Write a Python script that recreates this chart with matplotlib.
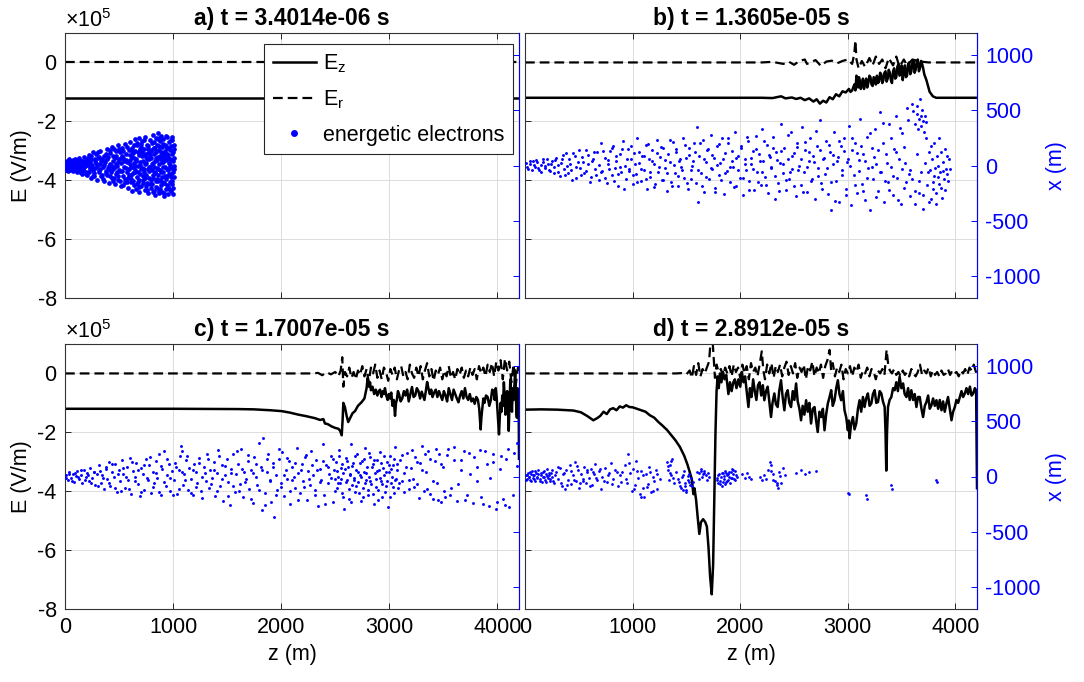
import numpy as np
import matplotlib
matplotlib.use("Agg")
import matplotlib.pyplot as plt

plt.rcParams["font.family"] = ["Liberation Sans", "DejaVu Sans"]
plt.rcParams["mathtext.fontset"] = "custom"
plt.rcParams["mathtext.rm"] = "Liberation Sans"
plt.rcParams["mathtext.it"] = "Liberation Sans:italic"
plt.rcParams["axes.unicode_minus"] = False
plt.rcParams["lines.scale_dashes"] = False

FS = 15.5

# ---------------- data (E in units of 1e5 V/m, z and x in m) ----------------
titles = ["a) t = 3.4014e-06 s", "b) t = 1.3605e-05 s",
          "c) t = 1.7007e-05 s", "d) t = 2.8912e-05 s"]

ez_a = [(0, -1.2), (4200, -1.2)]
er_a = [(0, 0.0), (4200, 0.0)]

ez_b = [(0, -1.2), (2200, -1.2), (2300, -1.21), (2380, -1.15), (2420, -1.22), (2480, -1.19),
        (2520, -1.24), (2560, -1.2), (2600, -1.28), (2640, -1.22), (2680, -1.33), (2710, -1.25),
        (2740, -1.4), (2770, -1.3), (2800, -1.36), (2830, -1.18), (2860, -1.25), (2890, -1.08),
        (2920, -1.15), (2950, -0.98), (2980, -1.02), (3010, -0.9), (3025, -1.0), (3040, -0.95),
        (3060, -0.75), (3070, -0.95), (3080, -0.45), (3088, -0.7), (3095, -0.85), (3103, -0.5),
        (3110, -0.6), (3120, -0.9), (3130, -0.75), (3140, -0.55), (3150, -0.9), (3160, -0.7),
        (3170, -0.55), (3180, -0.85), (3190, -0.7), (3200, -0.45), (3210, -0.5), (3220, -0.75),
        (3230, -0.8), (3240, -0.5), (3250, -0.55), (3260, -0.75), (3270, -0.45), (3280, -0.7),
        (3290, -0.65), (3300, -0.35), (3310, -0.4), (3320, -0.7), (3330, -0.6), (3340, -0.35),
        (3350, -0.3), (3360, -0.65), (3370, -0.55), (3380, -0.25), (3390, -0.35), (3400, -0.6),
        (3410, -0.7), (3420, -0.3), (3430, -0.2), (3440, -0.55), (3450, -0.5), (3460, -0.15),
        (3470, -0.05), (3480, -0.45), (3490, -0.4), (3500, -0.1), (3510, -0.6), (3520, -0.3),
        (3530, -0.1), (3540, -0.5), (3550, -0.45), (3560, -0.05), (3570, 0.0), (3580, -0.4),
        (3590, -0.3), (3600, 0.0), (3610, 0.05), (3620, -0.35), (3630, -0.25), (3640, 0.05),
        (3650, 0.1), (3660, -0.3), (3670, -0.2), (3680, 0.05), (3690, -0.05), (3700, -0.2),
        (3710, -0.4), (3730, -0.6), (3760, -1.0), (3790, -1.15), (3820, -1.2), (4200, -1.2)]
er_b = [(0, 0.0), (2200, 0.0), (2300, 0.02), (2400, -0.05), (2450, 0.03), (2500, -0.08),
        (2550, 0.05), (2600, 0.1), (2620, -0.05), (2700, 0.08), (2750, -0.12), (2800, 0.03),
        (2850, 0.06), (2900, -0.03), (2950, 0.05), (3000, 0.1), (3040, -0.05), (3060, 0.3),
        (3070, 0.75), (3080, 0.1), (3100, -0.2), (3130, 0.05), (3160, -0.15), (3200, 0.15),
        (3230, -0.1), (3260, 0.2), (3290, -0.05), (3320, 0.1), (3350, -0.2), (3380, 0.15),
        (3420, -0.1), (3450, 0.2), (3480, -0.15), (3520, 0.1), (3550, -0.1), (3600, 0.1),
        (3650, 0.05), (3700, 0.02), (3750, 0.0), (4200, 0.0)]

ez_c = [(0, -1.2), (1000, -1.2), (1600, -1.21), (1750, -1.22), (1900, -1.25), (2005, -1.28),
        (2080, -1.33), (2160, -1.4), (2230, -1.45), (2313, -1.52), (2360, -1.58), (2390, -1.55),
        (2405, -1.7), (2430, -1.72), (2467, -1.8), (2500, -1.85), (2530, -1.88), (2545, -1.95),
        (2560, -2.1), (2568, -1.6), (2575, -1.0), (2590, -1.15), (2606, -1.45), (2620, -1.65),
        (2640, -1.5), (2660, -1.35), (2683, -1.28), (2710, -1.1), (2745, -0.97), (2770, -0.85),
        (2790, -0.5), (2800, -0.15), (2812, -0.45), (2822, -0.3), (2830, -0.57), (2845, -0.45),
        (2860, -0.7), (2875, -0.55), (2890, -0.75), (2903, -0.6), (2915, -0.55), (2928, -0.8),
        (2940, -0.6), (2950, -0.7), (2960, -0.5), (2972, -0.75), (2985, -0.9), (2996, -0.7),
        (3007, -0.85), (3018, -0.65), (3030, -1.1), (3042, -0.9), (3053, -1.44), (3062, -1.0),
        (3070, -0.9), (3080, -0.6), (3090, -0.7), (3105, -0.95), (3120, -0.85), (3135, -0.6),
        (3150, -0.75), (3165, -0.55), (3180, -0.95), (3195, -0.7), (3210, -0.46), (3225, -0.8),
        (3240, -0.75), (3255, -0.5), (3270, -0.6), (3285, -0.85), (3300, -0.62), (3312, -0.75),
        (3325, -0.9), (3338, -0.6), (3350, -0.29), (3362, -0.5), (3375, -0.7), (3388, -0.55),
        (3400, -0.8), (3415, -0.65), (3430, -0.55), (3445, -0.8), (3460, -0.6), (3475, -0.75),
        (3490, -0.9), (3505, -0.6), (3520, -0.75), (3535, -0.95), (3550, -0.5), (3565, -0.7),
        (3580, -0.9), (3595, -0.55), (3610, -0.7), (3625, -0.85), (3640, -0.98), (3655, -0.75),
        (3670, -0.6), (3685, -0.85), (3700, -0.5), (3715, -0.8), (3730, -0.9), (3745, -0.7),
        (3760, -0.95), (3775, -0.85), (3790, -1.03), (3805, -0.8), (3820, -0.9), (3832, -1.2),
        (3845, -1.9), (3852, -1.5), (3860, -1.2), (3870, -0.85), (3880, -1.0), (3895, -0.75),
        (3910, -0.8), (3925, -1.1), (3940, -0.9), (3952, -0.55), (3965, -0.6), (3975, -0.9),
        (3985, -0.5), (3993, -0.8), (4000, -1.2), (4008, -1.6), (4015, -2.07), (4022, -1.5),
        (4030, -1.0), (4038, -1.3), (4045, -0.75), (4052, -1.1), (4060, -0.3), (4068, -0.8),
        (4075, -1.4), (4082, -0.9), (4090, -0.6), (4098, -1.2), (4105, -1.95), (4112, -1.0),
        (4120, -0.2), (4128, -0.9), (4135, -1.3), (4142, -0.5), (4150, -0.9), (4158, -0.4),
        (4165, 0.1), (4172, -0.9), (4180, -1.5), (4186, -0.5), (4192, -0.8), (4197, -1.0),
        (4200, -2.9)]
er_c = [(0, 0.0), (2300, 0.0), (2340, 0.02), (2380, -0.06), (2420, 0.04), (2460, -0.03),
        (2500, 0.05), (2530, -0.1), (2550, 0.1), (2565, 0.55), (2575, -0.45), (2590, 0.05),
        (2610, -0.1), (2630, 0.2), (2650, -0.15), (2670, 0.05), (2690, -0.2), (2710, 0.1),
        (2730, -0.05), (2750, 0.25), (2770, -0.1), (2790, 0.15), (2810, -0.3), (2830, 0.2),
        (2850, 0.0), (2870, 0.3), (2890, -0.15), (2910, 0.1), (2930, -0.2), (2950, 0.2),
        (2970, 0.05), (2990, -0.25), (3010, 0.15), (3030, -0.05), (3050, 0.2), (3070, -0.2),
        (3090, 0.1), (3110, 0.25), (3130, -0.1), (3150, 0.05), (3170, -0.2), (3190, 0.3),
        (3210, 0.0), (3230, -0.15), (3250, 0.2), (3270, -0.1), (3290, 0.25), (3310, -0.2),
        (3330, 0.1), (3350, 0.35), (3370, -0.1), (3390, 0.15), (3410, -0.25), (3430, 0.1),
        (3450, -0.05), (3470, 0.2), (3490, -0.2), (3510, 0.1), (3530, -0.1), (3550, 0.25),
        (3570, -0.15), (3590, 0.05), (3610, -0.2), (3630, 0.15), (3650, -0.05), (3670, 0.2),
        (3690, -0.15), (3710, 0.1), (3730, -0.1), (3750, 0.2), (3770, -0.05), (3790, 0.15),
        (3810, -0.2), (3830, 0.25), (3850, 0.0), (3870, 0.2), (3890, -0.1), (3910, 0.3),
        (3930, 0.05), (3950, 0.35), (3970, -0.1), (3990, 0.4), (4010, 0.1), (4030, 0.45),
        (4050, -0.2), (4070, 0.5), (4090, 0.1), (4110, 0.4), (4130, -0.3), (4150, 0.3),
        (4170, -0.4), (4190, 0.2), (4200, 0.1)]

ez_d = [(0, -1.23), (150, -1.22), (300, -1.23), (450, -1.26), (520, -1.32), (580, -1.45),
        (635, -1.59), (670, -1.52), (700, -1.44), (730, -1.3), (760, -1.38), (790, -1.22),
        (820, -1.18), (850, -1.25), (880, -1.12), (910, -1.16), (940, -1.08), (970, -1.14),
        (1000, -1.15), (1040, -1.2), (1080, -1.25), (1120, -1.3), (1160, -1.42), (1200, -1.5),
        (1240, -1.65), (1280, -1.78), (1320, -1.92), (1360, -2.1), (1400, -2.28), (1440, -2.5),
        (1480, -2.8), (1510, -3.1), (1535, -3.4), (1550, -3.6), (1565, -4.1), (1575, -3.9),
        (1590, -4.3), (1605, -4.9), (1620, -5.45), (1635, -5.05), (1655, -4.95), (1675, -5.05),
        (1690, -5.2), (1705, -5.9), (1720, -6.9), (1735, -7.5), (1748, -6.5), (1758, -4.5),
        (1770, -2.0), (1780, -0.6), (1790, -0.1), (1800, -0.5), (1812, 0.0), (1825, -0.3),
        (1840, 0.05), (1855, -0.2), (1870, -0.05), (1890, -0.7), (1905, -0.3), (1920, -0.6),
        (1936, -0.3), (1950, -0.2), (1965, -0.5), (1983, -0.2), (2000, -0.45), (2015, 0.05),
        (2030, -0.3), (2045, -0.1), (2060, -0.6), (2076, -1.14), (2090, -0.5), (2105, -0.8),
        (2120, -0.2), (2135, -0.6), (2150, -0.9), (2165, -0.4), (2180, -0.3), (2195, -0.75),
        (2210, -0.4), (2224, -0.91), (2240, -0.6), (2255, -0.45), (2270, -0.95), (2286, -1.48),
        (2300, -1.0), (2317, -0.68), (2332, -1.05), (2348, -1.14), (2362, -0.6), (2379, -0.23),
        (2394, -0.8), (2410, -1.25), (2425, -0.7), (2441, -0.57), (2456, -1.0), (2472, -1.14),
        (2488, -0.6), (2503, -0.9), (2519, -0.34), (2534, -0.95), (2550, -1.2), (2565, -1.59),
        (2580, -1.1), (2596, -1.4), (2612, -0.91), (2627, -1.3), (2642, -1.0), (2658, -1.7),
        (2674, -1.2), (2690, -1.14), (2705, -1.6), (2720, -1.99), (2736, -1.3), (2752, -1.48),
        (2768, -1.2), (2783, -1.93), (2798, -1.4), (2814, -1.02), (2830, -0.8), (2845, -0.57),
        (2860, -1.1), (2876, -0.91), (2892, -0.5), (2907, -0.23), (2922, -0.7), (2938, -0.91),
        (2954, -0.6), (2969, -1.25), (2985, -1.5), (3000, -1.93), (3008, -1.6), (3016, -2.2),
        (3031, -1.7), (3047, -1.48), (3062, -1.9), (3078, -1.7), (3094, -1.2), (3109, -0.91),
        (3124, -1.3), (3140, -0.8), (3155, -1.14), (3170, -0.85), (3186, -0.68), (3202, -1.1),
        (3218, -1.02), (3233, -0.7), (3249, -0.57), (3264, -1.0), (3280, -0.97), (3296, -0.6),
        (3311, -0.68), (3326, -0.95), (3342, -1.14), (3350, -2.0), (3357, -3.3), (3364, -2.0),
        (3373, -1.14), (3388, -0.9), (3404, -0.8), (3420, -0.5), (3435, -0.57), (3450, -0.3),
        (3465, -0.6), (3481, -0.11), (3497, -0.5), (3513, -0.34), (3528, -0.7), (3544, -0.8),
        (3560, -0.5), (3575, -0.9), (3590, -0.57), (3606, -0.9), (3621, -0.7), (3637, -1.14),
        (3652, -0.8), (3668, -0.8), (3684, -1.2), (3699, -1.48), (3715, -1.1), (3730, -0.97),
        (3746, -0.75), (3761, -1.2), (3777, -1.08), (3792, -0.85), (3808, -1.1), (3823, -0.91),
        (3839, -1.2), (3854, -0.9), (3870, -1.25), (3885, -0.95), (3900, -1.3), (3916, -1.02),
        (3931, -0.8), (3947, -1.2), (3963, -1.59), (3978, -1.3), (3994, -1.14), (4009, -0.9),
        (4025, -1.0), (4040, -0.8), (4056, -0.6), (4071, -0.8), (4087, -0.68), (4102, -0.5),
        (4118, -0.7), (4134, -0.45), (4150, -0.75), (4165, -0.68), (4180, -0.5), (4192, -0.57),
        (4200, -3.9)]
er_d = [(0, 0.0), (1400, 0.0), (1450, 0.01), (1500, -0.03), (1530, 0.1), (1550, -0.15),
        (1570, 0.25), (1590, -0.05), (1610, 0.35), (1630, -0.1), (1650, 0.15), (1670, 0.0),
        (1690, 0.2), (1710, 0.4), (1725, 1.1), (1740, 1.3), (1752, 0.6), (1765, -0.15),
        (1780, 0.3), (1800, 0.05), (1820, 0.15), (1840, -0.1), (1860, 0.2), (1880, 0.0),
        (1900, 0.25), (1920, -0.1), (1940, 0.3), (1960, 0.05), (1980, 0.2), (2000, -0.15),
        (2020, 0.3), (2040, 0.0), (2060, 0.25), (2080, -0.2), (2100, 0.35), (2120, 0.05),
        (2140, 0.2), (2160, -0.1), (2180, 0.3), (2200, 0.75), (2215, 0.1), (2230, -0.2),
        (2250, 0.3), (2270, 0.0), (2290, 0.35), (2310, -0.15), (2330, 0.25), (2350, 0.05),
        (2370, 0.3), (2390, -0.1), (2410, 0.2), (2430, 0.4), (2450, -0.05), (2470, 0.25),
        (2490, 0.0), (2510, 0.35), (2530, -0.15), (2550, 0.2), (2570, 0.05), (2590, 0.3),
        (2610, -0.2), (2630, 0.25), (2650, 0.1), (2670, 0.4), (2690, -0.1), (2710, 0.2),
        (2730, 0.0), (2750, 0.3), (2770, -0.15), (2790, 0.25), (2810, 0.45), (2830, 0.8),
        (2845, 0.1), (2860, 0.35), (2880, -0.1), (2900, 0.2), (2920, 0.05), (2940, 0.3),
        (2960, -0.2), (2980, 0.15), (3000, 0.0), (3020, 0.25), (3040, -0.1), (3060, 0.2),
        (3080, 0.05), (3100, 0.3), (3120, -0.15), (3140, 0.1), (3160, 0.0), (3180, 0.2),
        (3200, -0.1), (3220, 0.15), (3240, 0.05), (3260, -0.2), (3280, 0.1), (3300, 0.0),
        (3320, 0.15), (3340, -0.05), (3360, 0.8), (3375, 0.3), (3390, 0.1), (3410, 0.0),
        (3430, 0.15), (3450, -0.05), (3470, 0.05), (3490, -0.1), (3510, 0.1), (3530, -0.05),
        (3550, 0.05), (3570, -0.1), (3590, 0.15), (3610, 0.0), (3630, -0.1), (3650, 0.05),
        (3670, 0.3), (3690, -0.05), (3710, 0.1), (3730, 0.0), (3750, 0.2), (3770, -0.1),
        (3790, 0.1), (3810, -0.05), (3830, 0.05), (3850, -0.1), (3870, 0.1), (3890, -0.05),
        (3910, 0.0), (3930, 0.15), (3950, -0.05), (3970, 0.1), (3990, 0.0), (4010, 0.05),
        (4030, -0.1), (4050, 0.1), (4070, 0.0), (4090, 0.15), (4110, -0.05), (4130, 0.2),
        (4150, 0.1), (4170, 0.3), (4190, 0.05), (4200, 0.2)]

# energetic electrons (z, x)
cloud_a = [(5, 10), (12, -30), (20, 40), (28, -5), (35, 55), (42, -45), (50, 20), (58, -15), (65, 35),
           (72, -50), (80, 5), (88, 60), (95, -25), (102, 30), (110, -60), (118, 15), (125, -35),
           (132, 70), (140, -10), (148, 45), (155, -75), (162, 25), (170, -40), (178, 80), (185, 0),
           (192, -55), (200, 50), (208, -90), (215, 20), (222, 95), (230, -30), (238, 60), (245, -110),
           (252, 5), (260, 120), (268, -65), (275, 40), (282, -20), (290, 100), (298, -130), (305, 70),
           (312, -45), (320, 10), (328, 135), (335, -95), (342, 55), (350, -10), (358, -140), (365, 90),
           (372, 30), (380, -70), (388, 145), (395, -25), (402, 75), (408, -155), (414, 15), (420, 110),
           (426, -60), (432, 170), (438, -115), (444, 40), (450, -20), (456, 150), (462, -170), (468, 85),
           (474, -75), (480, 0), (486, 185), (492, -135), (498, 55), (504, -40), (510, 125), (516, -190),
           (522, 20), (528, 160), (534, -95), (540, 70), (546, -10), (552, 195), (558, -150), (564, 100),
           (570, -60), (576, 30), (582, -200), (588, 140), (594, -30), (600, 50), (604, 210), (608, -120),
           (612, -15), (616, 160), (620, -230), (624, 80), (628, -70), (632, 115), (636, -175), (640, 20),
           (644, 240), (648, -40), (652, 135), (656, -210), (660, 60), (664, -100), (668, 190), (672, -5),
           (676, -150), (680, 95), (684, 250), (688, -240), (692, 30), (696, -80), (700, 170), (704, -190),
           (708, 120), (712, -25), (716, 220), (720, -130), (724, 45), (728, -60), (732, 150), (736, -220),
           (740, 10), (744, 260), (748, -90), (752, 80), (756, -160), (760, 185), (764, -30), (768, 110),
           (772, -250), (776, 55), (780, -115), (784, 230), (788, -10), (792, 140), (796, -200), (800, 70),
           (803, -45), (806, 200), (809, -170), (812, 25), (815, 280), (818, -110), (821, 100), (824, -230),
           (827, 160), (830, -60), (833, 40), (836, -270), (839, 245), (842, -140), (845, 120), (848, -20),
           (851, 190), (854, -200), (857, 75), (860, -85), (863, 290), (866, -250), (869, 10), (872, 140),
           (875, -130), (878, 220), (881, -40), (884, 60), (887, -180), (890, 265), (893, -100), (896, 170),
           (899, -240), (902, 30), (905, 110), (908, -60), (911, 240), (914, -160), (917, 85), (920, -275),
           (923, 190), (926, -10), (929, 130), (932, -210), (935, 50), (938, -120), (941, 255), (944, -30),
           (947, 160), (950, -190), (953, 95), (956, -260), (959, 20), (962, 210), (965, -80), (968, 140),
           (971, -150), (974, 60), (977, -230), (980, 180), (983, -20), (986, 100), (989, -140), (992, 230),
           (995, -60), (998, 40), (1001, -200), (1004, 150), (1007, -100), (1010, 70), (1012, 0)]
cloud_a2 = [(3, -22), (17, 33), (31, -48), (44, 12), (61, -8), (77, 47), (93, -33), (107, -12), (121, 52),
            (137, -58), (151, 18), (166, -22), (183, 42), (197, -78), (213, 66), (227, -12), (243, 88),
            (257, -42), (271, -98), (286, 22), (301, 118), (317, -58), (333, 44), (347, -122), (361, 8),
            (377, 104), (391, -82), (407, -28), (419, 138), (433, -4), (447, -142), (459, 66), (473, 18),
            (487, -96), (499, 148), (511, -54), (523, 88), (537, -178), (549, 38), (561, -22), (573, 172),
            (587, -112), (597, 12), (607, -88), (619, 128), (631, -138), (641, 64), (651, -2), (663, 202),
            (673, -62), (683, -196), (693, 148), (703, -32), (713, 88), (723, -158), (733, 232), (743, -112),
            (753, 26), (761, -218), (771, 176), (779, -48), (787, 98), (797, -132), (805, 12), (813, -88),
            (819, 212), (826, -12), (832, 148), (838, -198), (844, 68), (850, -118), (856, 242), (862, -32),
            (868, 178), (874, -228), (880, 88), (886, -58), (892, 122), (898, -148), (904, 198), (910, -12),
            (916, -248), (922, 58), (928, -92), (934, 268), (940, -178), (946, 108), (952, -42), (958, 158),
            (964, -212), (970, 2), (976, 232), (982, -108), (988, 52), (994, -168), (1000, 118), (1006, -32),
            (1009, 188), (1003, -262), (991, 262), (979, -78), (967, -12), (955, 64), (943, -98), (931, 178),
            (919, -162), (907, 92), (895, 28), (883, -212), (871, 248), (859, -142), (847, 52), (835, -72),
            (823, 162), (811, -242), (799, 132), (789, -168), (777, -18), (767, 148), (757, 62), (747, -188),
            (737, 102), (727, -28), (717, -98), (707, 198), (697, 8), (687, -128), (677, 118), (667, -172),
            (657, 42), (645, -62), (635, 182), (625, -18), (613, -148), (601, 92), (589, -82), (577, -152),
            (565, 48), (553, -118), (541, 128), (529, -48), (517, 72), (505, -142), (493, 28), (481, -58),
            (469, 128), (457, -112), (445, 88), (431, -38), (417, -92), (403, -8), (389, 62), (375, -48),
            (359, 42), (343, -82), (327, -28), (311, 78), (295, -8), (279, 62), (263, -92), (249, -22),
            (233, 32), (219, -62), (205, 8), (189, 28), (173, -12), (159, 38), (143, -42), (127, 8),
            (113, -28), (99, 22), (83, -18), (67, 12), (53, 42), (39, -18), (23, 2), (8, -38)]

cloud_b = [(10, 20), (30, -30), (50, 10), (70, 45), (90, -15), (110, 30), (130, -45), (150, 5), (170, 55),
           (190, -25), (210, 15), (230, -50), (250, 40), (270, -10), (290, 70), (310, -60), (330, 25),
           (350, 95), (370, -90), (390, 0), (410, 60), (430, -40), (450, 110), (470, -115), (490, 35),
           (510, -20), (530, 80), (550, -70), (570, 140), (590, 10), (610, -100), (630, 55), (650, -30),
           (670, 120), (690, -130), (705, 200), (720, -50), (740, 70), (760, -160), (775, 15), (790, 130),
           (805, -90), (820, 180), (835, -20), (850, 40), (865, -190), (880, 100), (895, -60), (910, 220),
           (925, 0), (940, -120), (955, 150), (970, -35), (985, 60), (1000, -170), (1015, 110), (1030, -80),
           (1045, 250), (1060, 20), (1075, -140), (1090, 90), (1105, -40), (1120, 190), (1135, -210),
           (1150, 60), (1165, -100), (1180, 140), (1195, 10), (1210, -170), (1225, 230), (1240, -60),
           (1255, 80), (1270, -130), (1285, 160), (1300, -20), (1315, -230), (1330, 100), (1345, 30),
           (1360, -150), (1375, 210), (1390, -70), (1405, 120), (1420, -190), (1435, 40), (1450, -10),
           (1465, 250), (1480, -110), (1495, 70), (1510, -210), (1525, 160), (1540, -40), (1555, 0),
           (1570, 200), (1585, -160), (1595, 345), (1610, -330), (1620, 90), (1635, -70), (1650, 230),
           (1665, -240), (1680, 30), (1695, 140), (1710, -120), (1725, 280), (1740, -30), (1755, 70),
           (1770, -200), (1785, 180), (1800, -90), (1815, 20), (1830, 250), (1845, -260), (1860, 110),
           (1875, -50), (1890, 200), (1905, -150), (1920, 40), (1935, -10), (1950, 300), (1965, -190),
           (1980, 90), (1995, -110), (2010, 160), (2025, -270), (2040, 60), (2055, -40), (2070, 220),
           (2085, -140), (2100, 10), (2115, 130), (2130, -220), (2145, 270), (2160, -60), (2175, 100),
           (2190, -180), (2205, 330), (2215, 40), (2230, -100), (2245, 190), (2260, -250), (2275, 80),
           (2290, -20), (2305, 260), (2320, -300), (2335, 120), (2350, -160), (2365, 20), (2380, 380),
           (2395, -70), (2410, 160), (2425, -220), (2440, 60), (2455, -120), (2470, 300), (2485, -30),
           (2500, 110), (2515, -280), (2530, 200), (2545, 0), (2560, -180), (2575, 350), (2590, -60),
           (2605, 140), (2620, -240), (2635, 40), (2650, 250), (2665, -120), (2680, 90), (2695, -300),
           (2710, 180), (2725, -20), (2740, 410), (2755, -160), (2770, 60), (2785, -80), (2800, 220),
           (2815, -260), (2830, 120), (2845, -400), (2860, 10), (2875, 300), (2890, -140), (2905, 80),
           (2920, -330), (2935, 180), (2950, -40), (2965, 250), (2980, -210), (2995, 30), (3010, 360),
           (3025, -360), (3040, 140), (3055, -90), (3070, 200), (3085, -250), (3100, 50), (3115, 420),
           (3130, -170), (3145, 100), (3160, -310), (3175, 260), (3190, -20), (3205, -400), (3220, 160),
           (3235, -120), (3250, 330), (3265, 10), (3280, -230), (3295, 480), (3310, -60), (3325, 200),
           (3340, -330), (3355, 100), (3370, -150), (3385, 380), (3400, -10), (3415, -270), (3430, 150),
           (3445, 450), (3460, -110), (3475, 60), (3490, -350), (3505, 290), (3520, -200), (3535, 20),
           (3550, 520), (3565, -80), (3580, -280), (3600, 560), (3620, 380), (3640, 470), (3650, 330),
           (3660, 420), (3670, 600), (3680, 360), (3690, 500), (3700, 400), (3710, 300), (3720, 450),
           (3730, 250), (3600, -120), (3620, -350), (3640, 100), (3660, -250), (3680, -60), (3700, -390),
           (3720, 20), (3740, -180), (3750, 120), (3760, -40), (3770, -300), (3780, 60), (3790, -150),
           (3800, 200), (3810, -20), (3820, -250), (3830, 90), (3840, -100), (3850, 250), (3860, -60),
           (3870, -200), (3880, 30), (3890, -120), (3900, 150), (3910, -30), (3925, -80), (3940, 60)]
cloud_b2 = [(17, -12), (43, 38), (63, -42), (84, 8), (103, 52), (124, -22), (146, -62), (167, 28),
            (184, -8), (206, 62), (227, -38), (243, 12), (266, -72), (283, 48), (304, 8), (322, -98),
            (343, 62), (361, -28), (382, 112), (403, -72), (419, 18), (441, -132), (463, 88), (478, -12),
            (502, 142), (519, -88), (541, 28), (563, -48), (581, 92), (603, -152), (622, 38), (641, 118),
            (663, -88), (684, 8), (707, -58), (726, 132), (744, -112), (767, 48), (783, -28), (806, 162),
            (824, -142), (847, 88), (863, -78), (886, -12), (903, 148), (921, -212), (944, 58), (962, -48),
            (983, 178), (1003, -88), (1021, 18), (1044, -148), (1063, 122), (1082, -28), (1103, 88),
            (1121, -122), (1142, 198), (1163, -62), (1184, 38), (1202, -198), (1223, 112), (1244, -18),
            (1261, 168), (1283, -128), (1304, 52), (1322, -72), (1343, 232), (1362, -182), (1381, 8),
            (1403, 148), (1424, -98), (1442, 58), (1463, -38), (1484, 188), (1502, -158), (1521, 92),
            (1543, -118), (1562, 38), (1583, 118), (1604, -42), (1622, 208), (1643, -182), (1661, 62),
            (1683, -102), (1702, 152), (1724, -22), (1742, 92), (1763, -238), (1781, 8), (1803, 198),
            (1822, -132), (1843, 58), (1861, -68), (1884, 248), (1902, -18), (1921, 128), (1943, -198),
            (1962, 68), (1983, -42), (2003, 178), (2022, -112), (2041, 18), (2063, 262), (2082, -222),
            (2101, 72), (2122, -32), (2143, 152), (2162, -148), (2181, 42), (2203, -62), (2222, 218),
            (2241, -178), (2263, 98), (2282, -12), (2301, 162), (2322, -92), (2343, 52), (2362, -228),
            (2383, 132), (2401, 18), (2422, -128), (2441, 278), (2462, -62), (2483, 88), (2501, -182),
            (2523, 168), (2541, -38), (2562, 58), (2583, -242), (2601, 212), (2623, -12), (2642, 118),
            (2661, -138), (2683, 28), (2702, 308), (2721, -98), (2743, 142), (2762, -212), (2781, 72),
            (2803, -22), (2822, 188), (2841, -148), (2863, 92), (2882, -318), (2901, 38), (2922, 218),
            (2943, -88), (2962, 132), (2981, -268), (3003, 58), (3022, -8), (3041, 248), (3062, -178),
            (3083, 112), (3102, -48), (3121, 178), (3142, -228), (3163, 42), (3182, -112), (3203, 298),
            (3222, -18), (3241, 78), (3263, -288), (3282, 138), (3301, -62), (3323, 388), (3342, -138),
            (3361, 22), (3383, -218), (3402, 248), (3421, -92), (3443, 122), (3462, -312), (3481, 338),
            (3503, -28), (3522, 168), (3541, -152), (3563, 412), (3582, -42), (3607, 498), (3626, -232),
            (3644, 542), (3663, -142), (3682, 448), (3701, -268), (3724, 392), (3743, -62), (3758, -332),
            (3773, 178), (3787, -212), (3802, -92), (3818, -352), (3833, -8), (3847, -168), (3861, 118),
            (3874, -298), (3888, -48), (3903, -222), (3917, 88), (3931, -142), (3946, -28)]

cloud_c = [(10, 10), (25, -30), (40, 40), (55, -10), (70, 25), (85, -50), (100, 5), (115, 50), (130, -25),
           (145, 15), (160, -60), (175, 60), (190, -5), (205, 30), (220, -40), (235, 80), (250, -15),
           (265, 45), (280, -75), (295, 20), (315, 100), (330, -60), (345, 10), (360, -110), (375, 70),
           (390, -20), (405, 130), (420, -90), (435, 40), (450, -5), (465, 110), (480, -140), (495, 60),
           (510, -40), (525, 150), (540, 20), (555, -100), (570, 90), (585, -30), (600, 170), (615, -160),
           (630, 50), (645, 0), (660, 120), (675, -70), (690, -180), (705, 80), (720, 20), (735, -120),
           (750, 160), (765, -30), (780, 100), (795, -150), (810, 40), (825, -60), (840, 140), (855, -10),
           (870, 200), (885, -170), (900, 70), (915, 230), (930, -90), (945, 10), (960, 110), (975, -130),
           (990, 50), (1005, -30), (1020, 120), (1035, -160), (1050, 60), (1065, 190), (1075, 280),
           (1080, 230), (1090, -80), (1105, 20), (1120, 150), (1135, -120), (1150, 80), (1165, -20),
           (1180, -170), (1195, 110), (1210, 40), (1225, -60), (1240, 170), (1255, -130), (1270, 0),
           (1285, 90), (1300, -40), (1315, 200), (1330, -100), (1345, 60), (1360, -10), (1375, 130),
           (1390, -180), (1405, 30), (1420, 240), (1435, -90), (1450, 100), (1465, -220), (1480, 10),
           (1495, 160), (1510, -50), (1525, -260), (1540, 70), (1555, 200), (1570, -140), (1585, 20),
           (1600, 110), (1615, -70), (1630, 250), (1645, -190), (1660, 40), (1675, -20), (1690, 140),
           (1705, -110), (1720, 60), (1735, -240), (1750, 180), (1765, 0), (1780, -80), (1795, 300),
           (1810, 90), (1820, -300), (1835, 345), (1850, -150), (1865, 40), (1880, 200), (1895, -40),
           (1910, -230), (1925, 120), (1935, -370), (1950, 10), (1965, -120), (1980, 160), (1995, -60),
           (2010, 220), (2025, -180), (2040, 60), (2055, -20), (2070, 140), (2085, -250), (2100, 90),
           (2115, 0), (2130, -100), (2145, 260), (2160, 30), (2175, -150), (2190, 110), (2205, -40),
           (2220, 180), (2235, -210), (2250, 50), (2265, -80), (2280, 230), (2295, 10), (2310, -120),
           (2325, 150), (2340, -270), (2355, 70), (2370, -30), (2385, 290), (2400, -170), (2415, 100),
           (2430, -60), (2445, 20), (2460, 190), (2475, -230), (2485, 60), (2495, -20), (2505, 130),
           (2515, -100), (2525, 0), (2535, 240), (2545, -60), (2555, 80), (2565, -150), (2575, 30),
           (2585, -290), (2595, 170), (2605, -30), (2615, 90), (2625, -200), (2635, 20), (2645, 290),
           (2655, -80), (2665, 120), (2675, -10), (2685, -140), (2695, 60), (2705, 200), (2715, -50),
           (2725, 10), (2735, -220), (2745, 140), (2755, -100), (2765, 40), (2775, 260), (2785, -30),
           (2795, 90), (2805, -170), (2815, 0), (2825, 180), (2835, -70), (2845, 110), (2855, -250),
           (2865, 30), (2875, -20), (2885, 150), (2895, -120), (2905, 60), (2915, 220), (2925, -40),
           (2935, -190), (2945, 80), (2955, 10), (2965, -90), (2975, 130), (2985, -280), (2995, 40),
           (3005, 190), (3015, -60), (3025, 0), (3035, 100), (3045, -150), (3055, 270), (3065, -20),
           (3075, 60), (3085, -100), (3100, 150), (3120, -40), (3140, 30), (3160, 210), (3180, -110),
           (3200, 80), (3220, -20), (3240, 180), (3260, -70), (3280, 120), (3300, 280), (3320, -130),
           (3340, 40), (3360, 230), (3380, -160), (3400, -200), (3420, 140), (3440, -60), (3460, 200),
           (3480, -230), (3500, 90), (3520, -190), (3540, 250), (3570, -100), (3600, 150), (3630, -220),
           (3660, 60), (3690, 230), (3720, -170), (3750, 20), (3780, 180), (3810, -40), (3840, 240),
           (3870, -250), (3900, 110), (3930, -10), (3960, 200), (3990, -290), (4020, 70), (4050, -200),
           (4080, 160), (4110, -280), (4150, 210), (4180, 300)]
cloud_c2 = [(7, -18), (33, 22), (62, -42), (91, 32), (122, -8), (151, 58), (183, -32), (212, 12),
            (241, -62), (272, 38), (303, -88), (327, 52), (352, -12), (381, 88), (409, -58), (437, 112),
            (462, -102), (488, 22), (517, -128), (541, 78), (568, -8), (596, -112), (623, 132), (651, -42),
            (678, 62), (702, -142), (733, 102), (758, -12), (786, 178), (812, -92), (839, 28), (867, -138),
            (891, 92), (918, -52), (943, 158), (972, -18), (998, -172), (1027, 88), (1053, -112), (1082, 42),
            (1108, -32), (1133, 182), (1162, -148), (1188, 62), (1216, -92), (1243, 118), (1268, -192),
            (1297, 28), (1322, 158), (1348, -72), (1377, 62), (1402, -128), (1428, 188), (1453, -22),
            (1481, 98), (1507, -178), (1533, 28), (1558, -88), (1587, 228), (1612, -132), (1638, 72),
            (1663, -48), (1691, 192), (1718, -202), (1742, 32), (1768, 112), (1797, -122), (1823, 62),
            (1848, -262), (1872, 158), (1898, -28), (1927, 82), (1953, -168), (1978, 252), (2002, -92),
            (2028, 12), (2053, 172), (2078, -132), (2103, -32), (2131, 122), (2157, -212), (2182, 62),
            (2208, -92), (2233, 198), (2258, -22), (2283, 102), (2309, -168), (2333, 58), (2358, -48),
            (2383, 142), (2408, -252), (2432, 82), (2457, -12), (2482, 162), (2497, -128), (2512, 48),
            (2527, -62), (2538, 188), (2549, -22), (2561, 112), (2573, -188), (2586, 72), (2598, -48),
            (2611, 142), (2623, -112), (2634, 12), (2647, -232), (2658, 98), (2671, -28), (2683, 182),
            (2694, -82), (2707, 42), (2718, -148), (2731, 122), (2742, -8), (2753, -188), (2766, 162),
            (2777, -62), (2789, 28), (2802, -122), (2813, 212), (2826, -38), (2838, 82), (2851, -158),
            (2862, 148), (2874, -92), (2887, 52), (2898, -212), (2911, -12), (2922, 118), (2934, -72),
            (2947, 188), (2958, -138), (2971, 42), (2983, -42), (2994, 102), (3007, -182), (3018, 68),
            (3031, -98), (3043, 158), (3056, -28), (3068, 112), (3092, -62), (3113, 198), (3137, -142),
            (3158, 88), (3183, -32), (3207, 242), (3231, -98), (3256, 132), (3279, -198), (3303, 62),
            (3328, 208), (3352, -112), (3377, 162), (3402, -38), (3428, 248), (3453, -212), (3477, 112),
            (3503, -132), (3531, 192), (3563, -168), (3597, 268), (3634, -72), (3668, 152), (3704, -212),
            (3741, 212), (3777, -238), (3812, 88), (3848, -182), (3885, 232), (3922, -268), (3958, 128),
            (3994, -232), (4033, 182), (4068, -258), (4102, 248), (4141, -172), (4177, 92)]

cloud_d = [(5, 10), (15, -20), (25, 30), (35, 0), (45, -35), (55, 20), (65, 50), (75, -10), (85, 15),
           (95, -40), (105, 35), (115, -5), (125, 60), (135, -25), (145, 10), (155, -50), (165, 40),
           (175, 0), (185, -30), (195, 25), (205, 65), (215, -15), (225, 10), (235, -45), (245, 30),
           (255, 0), (270, -60), (290, 40), (310, -20), (325, 80), (340, -90), (355, 20), (370, -110),
           (385, 55), (400, -30), (415, 100), (430, -70), (445, 10), (460, 130), (475, -40), (490, 60),
           (505, -100), (520, 25), (535, -20), (550, 90), (565, -60), (580, 40), (595, -10), (610, 70),
           (625, -80), (640, 20), (655, 110), (670, -30), (690, 50), (705, -110), (720, 0), (740, 80),
           (760, -50), (780, 30), (800, 120), (820, -20), (840, 60), (860, -90), (880, 10), (900, 40),
           (930, 100), (945, -60), (960, 200), (975, 30), (990, -130), (1005, 70), (1020, -80),
           (1035, 140), (1050, -10), (1065, -160), (1080, 50), (1095, -100), (1110, -190), (1125, 20),
           (1140, -70), (1155, 90), (1170, -140), (1185, 0), (1200, -40), (1215, 60), (1230, -110),
           (1250, -20), (1320, 130), (1330, 60), (1340, -30), (1350, 100), (1360, 10), (1370, 160),
           (1380, -60), (1400, 40), (1420, -20), (1440, -90), (1460, 0), (1470, -120), (1480, 50),
           (1490, -60), (1500, -140), (1510, -30), (1520, 20), (1530, -80), (1540, -10), (1560, -50),
           (1600, 40), (1620, -20), (1640, 70), (1650, 20), (1660, 50), (1680, 10), (1690, -30),
           (1700, 30), (1710, 0), (1780, -10), (1790, -60), (1800, 20), (1810, -40), (1820, 0),
           (1830, -90), (1840, 30), (1850, -20), (1860, 50), (1870, -50), (1880, 10), (1890, -30),
           (1900, 40), (1910, -10), (1920, 70), (1930, 20), (1940, -20), (1950, 50), (1960, 10),
           (1970, 0), (2020, 20), (2040, -10), (2060, 30), (2080, 0), (2100, -20), (2180, 0),
           (2200, -30), (2220, 10), (2240, -20), (2260, 60), (2280, 130), (2290, 100), (2300, 20),
           (2320, -40), (2340, -80), (2350, -100), (2360, 40), (2380, -60), (2400, 80), (2420, 10),
           (2520, 30), (2560, 60), (2600, 20), (2640, 40), (2700, 50), (3000, -150), (3010, -160),
           (3170, -170), (3180, -200), (3400, -80), (3410, -110), (3820, -30), (3830, -50)]
cloud_d2 = [(9, -28), (21, 18), (33, -8), (47, 38), (59, -42), (71, 12), (83, -22), (97, 48), (111, -18),
            (123, 22), (139, -38), (151, 32), (163, -8), (177, 52), (191, -48), (203, 2), (219, 28),
            (231, -22), (249, 58), (261, -38), (283, 18), (303, 82), (333, -58), (363, 28), (393, -78),
            (423, 48), (453, -28), (483, 92), (513, -62), (543, -38), (573, 58), (603, -82), (633, 42),
            (663, -12), (697, 72), (733, -42), (767, 18), (813, -68), (853, 38), (893, -48), (937, -22),
            (967, 118), (1012, -112), (1043, 48), (1074, -182), (1101, 12), (1132, -92), (1163, 42),
            (1193, -128), (1223, 22), (1327, 92), (1344, 28), (1357, 138), (1373, -12), (1432, -52),
            (1453, -102), (1467, 12), (1483, -82), (1497, -122), (1513, 8), (1527, -48), (1553, -88),
            (1613, 28), (1633, 52), (1647, -8), (1663, 28), (1787, -28), (1797, 12), (1813, -68),
            (1827, 28), (1837, -52), (1847, 8), (1857, -72), (1867, 32), (1877, -42), (1887, 22),
            (1897, -8), (1907, -58), (1917, 38), (1927, -18), (1937, 58), (1947, -32), (2287, 48),
            (2303, -28), (2343, -62), (2367, 8)]

z_ticks = [0, 1000, 2000, 3000, 4000]
e_ticks = [-8, -6, -4, -2, 0]
x_ticks = [-1000, -500, 0, 500, 1000]

# ---------------- figure ----------------
fig = plt.figure(figsize=(10.84, 6.82), dpi=100)
W, H = 1084.0, 682.0
positions = [(65, 33, 454, 265), (525, 33, 452, 265), (65, 344, 454, 265), (525, 344, 452, 265)]
lines_ez = [ez_a, ez_b, ez_c, ez_d]
lines_er = [er_a, er_b, er_c, er_d]
clouds = [cloud_a + cloud_a2, cloud_b + cloud_b2, cloud_c + cloud_c2, cloud_d + cloud_d2]
dot_size = [3.4, 2.1, 2.1, 2.0]


def draw_panel(i):
    l, t, w, h = positions[i]
    ax = fig.add_axes([l / W, 1 - (t + h) / H, w / W, h / H])
    col, row = i % 2, i // 2
    ez = np.array(lines_ez[i])
    er = np.array(lines_er[i])
    h1, = ax.plot(ez[:, 0], ez[:, 1], color="k", lw=1.8, label=r"E$_\mathrm{z}$")
    h2, = ax.plot(er[:, 0], er[:, 1], color="k", lw=1.6, dashes=(7, 3.6), label=r"E$_\mathrm{r}$")
    ax.set_xlim(0, 4200)
    ax.set_ylim(-8, 1)
    ax.set_xticks(z_ticks)
    ax.set_yticks(e_ticks)
    ax.grid(True, color="#dcdcdc", lw=0.7)
    ax.set_axisbelow(True)
    ax.tick_params(direction="in", length=4.5, width=0.7, labelsize=FS, top=True,
                   right=False, colors="0.15", labelcolor="k", pad=6)
    for s in ax.spines.values():
        s.set_color("0.2")
        s.set_linewidth(0.8)
    if row == 0:
        ax.tick_params(labelbottom=False)
    else:
        ax.set_xlabel("z (m)", fontsize=FS, labelpad=4)
    if col == 1:
        ax.tick_params(labelleft=False)
    else:
        ax.set_ylabel("E (V/m)", fontsize=FS, labelpad=4)
        ax.text(0.0, 1.005, r"$\times\mathregular{10^{5}}$", transform=ax.transAxes,
                fontsize=FS, ha="left", va="bottom")
    ax.set_title(titles[i], fontsize=16.5, fontweight="bold", pad=6)

    ax2 = ax.twinx()
    cl = np.array(clouds[i])
    h3, = ax2.plot(cl[:, 0], cl[:, 1], linestyle="none", marker="o", ms=dot_size[i],
                   mew=0, color="b", label="energetic electrons")
    ax2.set_ylim(-1200, 1200)
    ax2.set_yticks(x_ticks)
    ax2.tick_params(axis="y", direction="in", length=4.5, width=0.7, colors="b",
                    labelsize=FS, pad=6)
    for k in ("left", "top", "bottom"):
        ax2.spines[k].set_visible(False)
    ax2.spines["right"].set_color("b")
    ax2.spines["right"].set_linewidth(0.8)
    if col == 0:
        ax2.tick_params(labelright=False)
    else:
        ax2.set_ylabel("x (m)", color="b", fontsize=FS, labelpad=4)
    return ax, ax2, (h1, h2, h3)


for i in range(4):
    ax, ax2, handles = draw_panel(i)
    if i == 0:
        leg = ax2.legend(handles, [hh.get_label() for hh in handles], loc="upper right",
                         bbox_to_anchor=(0.987, 0.958), fontsize=FS, frameon=True,
                         fancybox=False, framealpha=1, edgecolor="0.15",
                         handlelength=2.0, handletextpad=0.35, labelspacing=0.62,
                         borderpad=0.4, borderaxespad=0)
        leg.get_frame().set_linewidth(0.8)
        leg.legend_handles[2].set_markersize(5)

fig.savefig("out.png", dpi=100)
